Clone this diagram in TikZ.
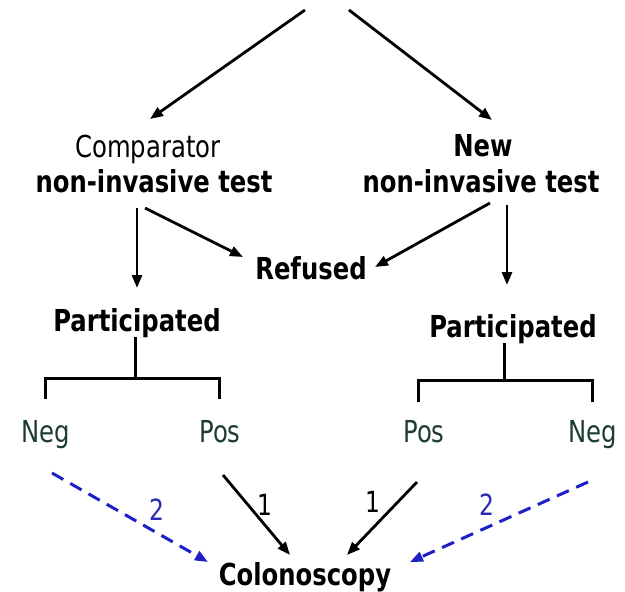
\documentclass[tikz,border=0pt]{standalone}
\usepackage{fontspec}
\setmainfont{DejaVu Sans Condensed}
\usetikzlibrary{arrows.meta}
\definecolor{leafgreen}{HTML}{1E3B36}
\definecolor{dashblue}{HTML}{1F1FC8}
\definecolor{numblue}{HTML}{2A2AB0}
% slightly taller letter shapes
\newcommand\tall[1]{\scalebox{1}[1.12]{#1}}
\begin{document}
\begin{tikzpicture}[x=1pt,y=-1pt,
  txt/.style={anchor=base,inner sep=0pt,font=\fontsize{27}{32}\selectfont},
  bold/.style={txt,font=\fontsize{27}{32}\selectfont\bfseries},
  leaf/.style={txt,text=leafgreen},
  num/.style={anchor=center,inner sep=0pt,font=\fontsize{26}{30}\selectfont},
  flow/.style={line width=2.8pt,-{Triangle[length=13pt,width=10pt]}},
  recall/.style={line width=3pt,dashblue,dash pattern=on 13pt off 8pt,-{Triangle[length=13pt,width=10pt]}},
  brace/.style={line width=3pt}]
  \fill[white] (0,0) rectangle (625,592);
  \useasboundingbox (0,0) rectangle (625,592);

  % entry points at the top
  \coordinate (topL) at (305,10);
  \coordinate (topR) at (349,10);

  % the two test arms
  \node[txt]  (cmpA) at (148,157) {\tall{Comparator}};
  \node[bold] (cmpB) at (154,192) {\tall{non-invasive test}};
  \node[bold] (newA) at (483,156) {\tall{New}};
  \node[bold] (newB) at (481,192) {\tall{non-invasive test}};

  \node[bold] (ref)   at (311,279) {\tall{Refused}};
  \node[bold] (partL) at (137,331) {\tall{Participated}};
  \node[bold] (partR) at (513,337) {\tall{Participated}};

  % test results
  \node[leaf] (negL) at (46,442)  {\tall{Neg}};
  \node[leaf] (posL) at (220,442) {\tall{Pos}};
  \node[leaf] (posR) at (424,442) {\tall{Pos}};
  \node[leaf] (negR) at (593,442) {\tall{Neg}};

  \node[bold] (colo) at (305,585) {\tall{Colonoscopy}};

  % randomisation
  \draw[flow] (topL) -- ([xshift=2pt,yshift=38pt]cmpA.base);
  \draw[flow] (topR) -- ([xshift=9pt,yshift=36pt]newA.base);

  % participation or refusal
  \draw[flow] ([xshift=-17pt,yshift=-16pt]cmpB.base) -- ([yshift=43pt]partL.base);
  \draw[flow] ([xshift=-9pt,yshift=-16pt]cmpB.base) -- ([xshift=-68pt,yshift=22pt]ref.base);
  \draw[flow] ([xshift=9pt,yshift=-11pt]newB.base) -- ([xshift=64pt,yshift=12pt]ref.base);
  \draw[flow] ([xshift=26pt,yshift=-13pt]newB.base) -- ([xshift=-6pt,yshift=52pt]partR.base);

  % result brackets
  \draw[brace] ([xshift=-2pt,yshift=-6pt]partL.base) -- ++(0,41);
  \draw[brace] ([xshift=-1pt,yshift=43pt]negL.base) -- ++(0,-21) -| ([xshift=-1pt,yshift=43pt]posL.base);
  \draw[brace] ([xshift=-9pt,yshift=-6pt]partR.base) -- ++(0,37);
  \draw[brace] ([xshift=-6pt,yshift=40pt]posR.base) -- ++(0,-22) -| ([xshift=-1pt,yshift=40pt]negR.base);

  % referral to colonoscopy
  \draw[recall] ([xshift=6pt,yshift=-31pt]negL.base) -- ([xshift=-97pt,yshift=23pt]colo.base);
  \draw[flow]   ([xshift=3pt,yshift=-33pt]posL.base) -- ([xshift=-15pt,yshift=30pt]colo.base);
  \draw[flow]   ([xshift=-7pt,yshift=-40pt]posR.base) -- ([xshift=42pt,yshift=30pt]colo.base);
  \draw[recall] ([xshift=-5pt,yshift=-40pt]negR.base) -- ([xshift=105pt,yshift=23pt]colo.base);

  \node[num,text=numblue] (twoL) at (157,510) {\tall{2}};
  \node[num] (oneL) at (265,505) {\tall{1}};
  \node[num] (oneR) at (373,502) {\tall{1}};
  \node[num,text=numblue] (twoR) at (487,505) {\tall{2}};
\end{tikzpicture}
\end{document}
